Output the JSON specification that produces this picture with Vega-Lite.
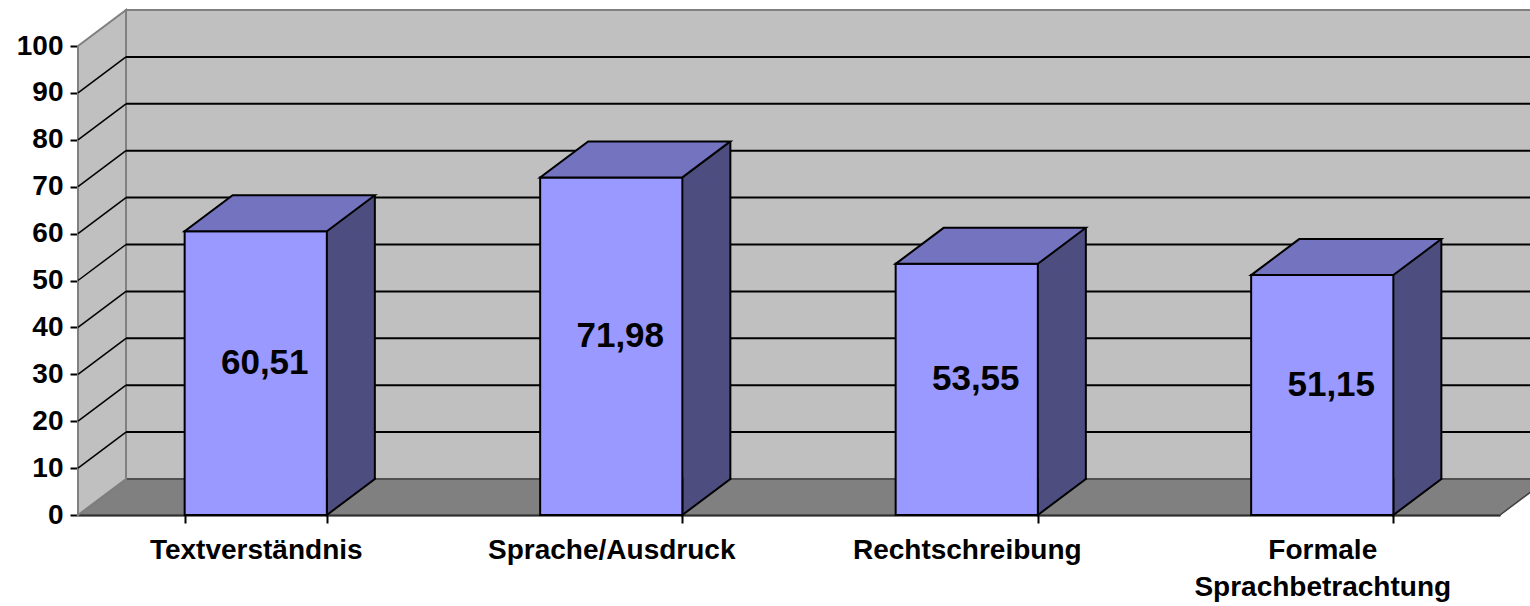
{
  "$schema": "https://vega.github.io/schema/vega-lite/v6.json",
  "width": 1422,
  "height": 469,
  "autosize": {"type": "none"},
  "padding": {"left": 78, "top": 46, "right": 30, "bottom": 91},
  "background": "white",
  "config": {
    "view": {"stroke": null},
    "axisY": {
      "domainColor": "black", "domainWidth": 2, "tickColor": "black", "tickWidth": 2, "tickSize": 8,
      "labelFont": "Liberation Sans", "labelFontSize": 28, "labelFontWeight": "bold", "labelColor": "black",
      "labelPadding": 7, "grid": false, "zindex": 1, "titleFontSize": 0
    },
    "axisX": {
      "domainColor": "black", "domainWidth": 2, "tickColor": "black", "tickWidth": 2, "tickSize": 8,
      "tickBand": "extent", "labelFont": "Liberation Sans", "labelFontSize": 28, "labelFontWeight": "bold",
      "labelColor": "black", "labelPadding": 13, "labelLineHeight": 37, "labelAngle": 0, "labelLimit": 500,
      "grid": false, "zindex": 1
    }
  },
  "datasets": {
    "scores": [
      {"cat": "Textverständnis", "value": 60.51, "label": "60,51"},
      {"cat": "Sprache/Ausdruck", "value": 71.98, "label": "71,98"},
      {"cat": "Rechtschreibung", "value": 53.55, "label": "53,55"},
      {"cat": "Formale Sprachbetrachtung", "value": 51.15, "label": "51,15"}
    ],
    "ticks": [{"v": 10}, {"v": 20}, {"v": 30}, {"v": 40}, {"v": 50}, {"v": 60}, {"v": 70}, {"v": 80}, {"v": 90}],
    "one": [{"v": 0}]
  },
  "layer": [
    {
      "data": {"name": "one"},
      "mark": {"type": "rect", "fill": "#C0C0C0", "stroke": "#808080", "strokeWidth": 2, "xOffset": 48, "x2Offset": 48, "yOffset": -36, "y2Offset": -36},
      "encoding": {
        "x": {"value": 0},
        "x2": {"value": "width"},
        "y": {"datum": 100, "type": "quantitative", "scale": {"domain": [0, 100], "nice": false}, "title": null},
        "y2": {"datum": 0}
      }
    },
    {
      "data": {"name": "one"},
      "mark": {"type": "point", "shape": "M0,0 L1422,0 L1470,-36 L48,-36 Z", "size": 4, "filled": true, "opacity": 1, "fill": "#808080", "stroke": "#404040", "strokeWidth": 1.5},
      "encoding": {
        "x": {"value": 0},
        "y": {"datum": 0, "type": "quantitative", "scale": {"domain": [0, 100], "nice": false}, "title": null}
      }
    },
    {
      "data": {"name": "one"},
      "mark": {"type": "point", "shape": "M0,0 L48,-36 L48,-505 L0,-469 Z", "size": 4, "filled": true, "opacity": 1, "fill": "#C0C0C0", "stroke": "#808080", "strokeWidth": 2},
      "encoding": {
        "x": {"value": 0},
        "y": {"datum": 0, "type": "quantitative", "scale": {"domain": [0, 100], "nice": false}, "title": null}
      }
    },
    {
      "data": {"name": "ticks"},
      "mark": {"type": "rule", "color": "black", "strokeWidth": 2, "xOffset": 48, "x2Offset": 48, "yOffset": -36},
      "encoding": {
        "x": {"value": 0},
        "x2": {"value": "width"},
        "y": {"field": "v", "type": "quantitative", "scale": {"domain": [0, 100], "nice": false}, "title": null}
      }
    },
    {
      "data": {"name": "ticks"},
      "mark": {"type": "rule", "color": "black", "strokeWidth": 1.5, "x2Offset": 48, "y2Offset": -36},
      "encoding": {
        "x": {"value": 0},
        "x2": {"value": 0},
        "y": {"field": "v", "type": "quantitative", "scale": {"domain": [0, 100], "nice": false}, "title": null},
        "y2": {"field": "v"}
      }
    },
    {
      "data": {"name": "scores"},
      "encoding": {
        "x": {
          "field": "cat", "type": "nominal", "sort": null, "title": null,
          "scale": {"paddingInner": 0.6, "paddingOuter": 0.3},
          "axis": {"labelExpr": "datum.label == 'Formale Sprachbetrachtung' ? ['Formale', 'Sprachbetrachtung'] : datum.label"}
        }
      },
      "layer": [
        {
          "mark": {"type": "bar", "width": 48, "xOffset": 95.1, "y2Offset": -36, "fill": "#4D4D80", "strokeWidth": 0},
          "encoding": {
            "y": {"field": "value", "type": "quantitative", "scale": {"domain": [0, 100], "nice": false}, "title": null},
            "y2": {"datum": 0}
          }
        },
        {
          "mark": {"type": "point", "shape": "M0,1 L0,0 L48,-36 L48,1 Z", "size": 4, "filled": true, "opacity": 1, "fill": "#4D4D80", "strokeWidth": 0, "xOffset": 71.1},
          "encoding": {
            "y": {"field": "value", "type": "quantitative", "scale": {"domain": [0, 100], "nice": false}, "title": null}
          }
        },
        {
          "mark": {"type": "point", "shape": "M48,-37 L48,-36 L0,0 L0,-37", "size": 4, "filled": true, "opacity": 1, "fill": "#4D4D80", "stroke": "black", "strokeWidth": 2, "xOffset": 71.1},
          "encoding": {
            "y": {"datum": 0, "type": "quantitative", "scale": {"domain": [0, 100], "nice": false}, "title": null}
          }
        },
        {
          "mark": {"type": "rule", "color": "black", "strokeWidth": 2, "xOffset": 119.1, "yOffset": -36, "y2Offset": -36},
          "encoding": {
            "y": {"field": "value", "type": "quantitative", "scale": {"domain": [0, 100], "nice": false}, "title": null},
            "y2": {"datum": 0}
          }
        },
        {
          "mark": {"type": "bar", "fill": "#9999FF", "stroke": "black", "strokeWidth": 2},
          "encoding": {
            "y": {"field": "value", "type": "quantitative", "scale": {"domain": [0, 100], "nice": false}, "title": null},
            "y2": {"datum": 0}
          }
        },
        {
          "mark": {"type": "point", "shape": "M-71.1,0 L71.1,0 L119.1,-36 L-23.1,-36 Z", "size": 4, "filled": true, "opacity": 1, "fill": "#7373C0", "stroke": "black", "strokeWidth": 2},
          "encoding": {
            "y": {"field": "value", "type": "quantitative", "scale": {"domain": [0, 100], "nice": false}, "title": null}
          }
        },
        {
          "mark": {
            "type": "text", "font": "Liberation Sans", "fontSize": 35, "fontWeight": "bold", "color": "black",
            "align": "center", "baseline": "middle", "xOffset": 9,
            "yOffset": {"expr": "(scale('y', 0) - scale('y', datum.value)) / 2 - 10"}
          },
          "encoding": {
            "y": {"field": "value", "type": "quantitative", "scale": {"domain": [0, 100], "nice": false}, "title": null},
            "text": {"field": "label"}
          }
        }
      ]
    }
  ]
}
